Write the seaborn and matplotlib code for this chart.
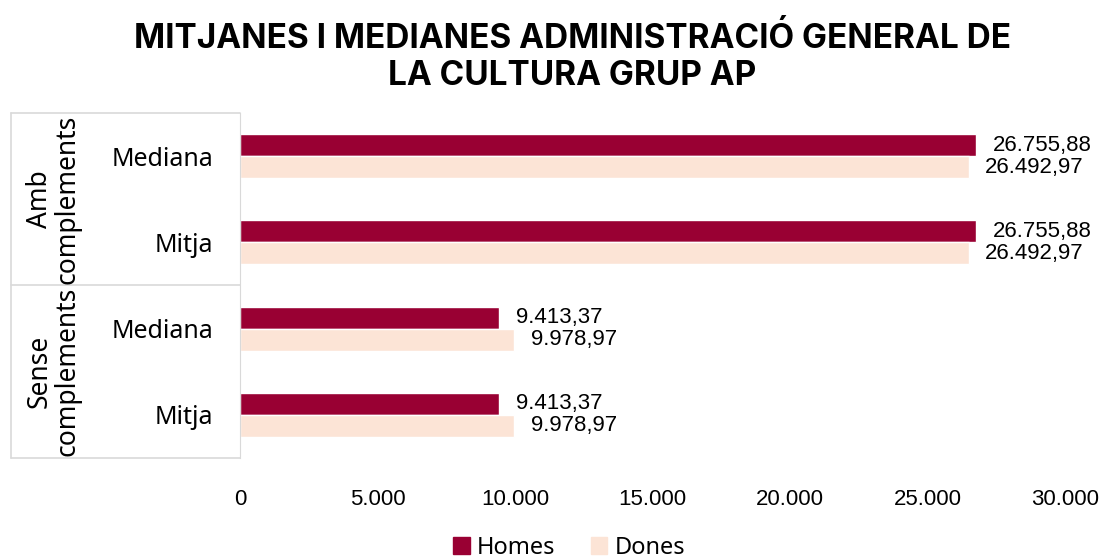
import seaborn as sns
import pandas as pd
import matplotlib.pyplot as plt
from matplotlib.patches import Patch

# dades
grups = ['Amb\ncomplements', 'Sense\ncomplements']
mesures = ['Mediana', 'Mitja', 'Mediana', 'Mitja']
claus = ['amb_mediana', 'amb_mitja', 'sense_mediana', 'sense_mitja']
homes = [26755.88, 26755.88, 9413.37, 9413.37]
dones = [26492.97, 26492.97, 9978.97, 9978.97]
sexes = ['Homes', 'Dones']
colors = ['#990033', '#FCE4D6']
ticks_x = [0, 5000, 10000, 15000, 20000, 25000, 30000]


def format_ca(v, dec=2):
    s = f'{v:,.{dec}f}'
    return s.replace(',', 'X').replace('.', ',').replace('X', '.')


df = pd.DataFrame({
    'clau': claus * 2,
    'sexe': ['Homes'] * 4 + ['Dones'] * 4,
    'valor': homes + dones,
})

sns.set_style('white')
plt.rcParams['font.family'] = ['Liberation Sans', 'DejaVu Sans']
plt.rcParams['text.color'] = 'black'
plt.rcParams['xtick.color'] = 'black'
plt.rcParams['ytick.color'] = 'black'
txt_font = ['Noto Sans', 'DejaVu Sans']

fig = plt.figure(figsize=(11.05, 5.59), dpi=100)
ax = fig.add_axes([0.2172, 0.1807, 0.7466, 0.6172])

sns.barplot(data=df, x='valor', y='clau', hue='sexe', order=claus,
            hue_order=sexes, palette=colors, orient='h', width=0.51,
            saturation=1, ax=ax, legend=False, errorbar=None)

for cont, vals in zip(ax.containers, [homes, dones]):
    ax.bar_label(cont, labels=[format_ca(v) for v in vals], padding=12,
                 fontsize=16, color='black')

ax.set_xlim(0, 30000)
ax.set_xticks(ticks_x)
ax.set_xticklabels([format_ca(t, 0) for t in ticks_x], fontsize=16)
ax.set_yticks(range(4))
ax.set_yticklabels(mesures, fontsize=18, family=txt_font)
ax.tick_params(axis='x', length=0, pad=22)
ax.tick_params(axis='y', length=0, pad=19)
ax.set_xlabel('')
ax.set_ylabel('')
ax.set_ylim(3.5, -0.5)

for s in ['top', 'right', 'bottom']:
    ax.spines[s].set_visible(False)
ax.spines['left'].set_color('#d9d9d9')

# línies de separació dels grups
tr = ax.get_yaxis_transform()
for y in [-0.5, 1.5, 3.5]:
    ax.plot([-0.2776, 0], [y, y], color='#d9d9d9', lw=1.2, transform=tr,
            clip_on=False)
ax.plot([-0.2776, -0.2776], [-0.5, 3.5], color='#d9d9d9', lw=1.2,
        transform=tr, clip_on=False)

for i, g in enumerate(grups):
    ax.text(-0.226, 0.5 + 2 * i, g, rotation=90, ha='center', va='center',
            fontsize=19, transform=tr, linespacing=0.95, family=txt_font)

fig.suptitle('MITJANES I MEDIANES ADMINISTRACIÓ GENERAL DE\nLA CULTURA GRUP AP',
             x=0.518, y=0.96, fontsize=24, fontweight='bold', linespacing=1.2,
             family=['Inter', 'DejaVu Sans'])

handles = [Patch(color=c, label=s) for c, s in zip(colors, sexes)]
fig.legend(handles=handles, loc='center', bbox_to_anchor=(0.515, 0.02),
           ncol=2, frameon=False, prop={'family': txt_font, 'size': 17},
           handlelength=0.7, handleheight=0.7, handletextpad=0.3,
           columnspacing=1.5)

fig.savefig('out.png', dpi=100)
